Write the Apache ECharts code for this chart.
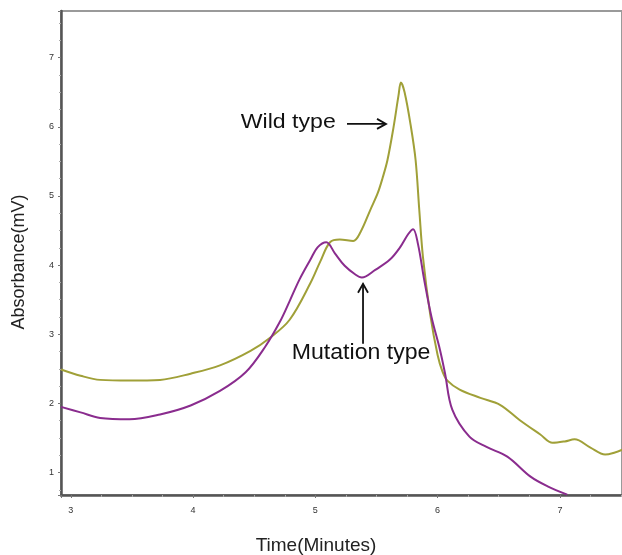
<!DOCTYPE html>
<html>
<head>
<meta charset="utf-8">
<script src="https://cdn.jsdelivr.net/npm/echarts@6/dist/echarts.min.js"></script>
<style>html,body{margin:0;padding:0;background:#fff;}#c{width:622px;height:555px;}</style>
</head>
<body>
<div id="c"></div>
<script>
// Time (minutes) and absorbance (mV)
const wildTime = [2.92,3.08,3.24,3.48,3.73,3.98,4.22,4.47,4.63,4.79,4.96,5.04,5.12,5.20,5.31,5.37,5.45,5.51,5.55,5.59,5.64,5.68,5.70,5.73,5.78,5.82,5.85,5.88,5.94,6.00,6.04,6.08,6.18,6.35,6.51,6.67,6.84,6.94,7.04,7.12,7.25,7.37,7.45,7.51];
const wildAbs  = [2.49,2.40,2.34,2.33,2.34,2.43,2.55,2.76,2.95,3.21,3.74,4.05,4.33,4.37,4.35,4.48,4.80,5.04,5.26,5.52,6.00,6.45,6.64,6.50,6.02,5.52,4.80,4.12,3.28,2.70,2.46,2.33,2.20,2.08,1.98,1.76,1.55,1.43,1.45,1.48,1.36,1.26,1.29,1.33];
const mutTime  = [2.92,3.08,3.24,3.48,3.73,3.98,4.22,4.43,4.59,4.71,4.79,4.87,4.96,5.02,5.09,5.16,5.24,5.33,5.38,5.49,5.61,5.69,5.76,5.80,5.84,5.89,5.95,6.02,6.06,6.12,6.26,6.40,6.57,6.76,6.90,7.06];
const mutAbs   = [1.95,1.87,1.79,1.77,1.84,1.97,2.18,2.45,2.82,3.18,3.48,3.79,4.08,4.26,4.33,4.17,3.99,3.86,3.82,3.93,4.08,4.25,4.45,4.52,4.30,3.79,3.25,2.77,2.44,1.91,1.52,1.37,1.23,0.94,0.80,0.68];
const seriesNames = ['Wild type', 'Mutation type'];
const xTitle = 'Time(Minutes)';
const yTitle = 'Absorbance(mV)';

const FONT = '"Liberation Sans", Arial, sans-serif';
const chart = echarts.init(document.getElementById('c'), null, {renderer: 'canvas'});

function pairs(xs, ys) { return xs.map((x, i) => [x, ys[i]]); }
function intLabel(v) {
  const r = Math.round(v);
  return Math.abs(v - r) < 1e-6 ? String(r) : '';
}

const axisCommon = {
  type: 'value',
  axisLine: {show: true, lineStyle: {color: '#555', width: 2.5}},
  axisTick: {show: true, length: 3, lineStyle: {color: '#777', width: 1}},
  minorTick: {show: true, splitNumber: 4, length: 2, lineStyle: {color: '#aaa', width: 1}},
  splitLine: {show: false},
  minorSplitLine: {show: false},
  axisLabel: {fontSize: 9, color: '#333', fontFamily: FONT, formatter: intLabel, showMinLabel: false, showMaxLabel: false}
};

chart.setOption({
  animation: false,
  backgroundColor: '#fff',
  grid: {left: 61, right: 0, top: 11, bottom: 60, show: true, borderColor: '#9a9a9a', borderWidth: 2, backgroundColor: 'transparent'},
  xAxis: Object.assign({}, axisCommon, {
    min: 2.92, max: 7.508, splitNumber: 5,
    axisLabel: Object.assign({}, axisCommon.axisLabel, {margin: 11})
  }),
  yAxis: Object.assign({}, axisCommon, {
    min: 0.675, max: 7.675, splitNumber: 7,
    axisLabel: Object.assign({}, axisCommon.axisLabel, {margin: 7})
  }),
  series: [
    {name: seriesNames[0], type: 'line', data: pairs(wildTime, wildAbs), showSymbol: false, smooth: 0.35,
     lineStyle: {color: '#a0a038', width: 2}, itemStyle: {color: '#a0a038'}, z: 2},
    {name: seriesNames[1], type: 'line', data: pairs(mutTime, mutAbs), showSymbol: false, smooth: 0.35,
     lineStyle: {color: '#8a2c8e', width: 2}, itemStyle: {color: '#8a2c8e'}, z: 3}
  ]
});

// annotation anchors in data units
const wildTextAt = [4.39, 6.07];
const wildArrow = [[5.259, 6.042], [5.578, 6.042]];
const mutTextAt = [4.807, 2.733];
const mutArrow = [[5.39, 2.863], [5.39, 3.73]];

function px(p) { return chart.convertToPixel({gridIndex: 0}, p); }
function arrow(a, b) {
  const A = px(a), B = px(b);
  const dx = B[0] - A[0], dy = B[1] - A[1];
  const len = Math.sqrt(dx * dx + dy * dy), ux = dx / len, uy = dy / len;
  const h = 9, w = 5;
  const p1 = [B[0] - ux * h - uy * w, B[1] - uy * h + ux * w];
  const p2 = [B[0] - ux * h + uy * w, B[1] - uy * h - ux * w];
  return [
    {type: 'line', shape: {x1: A[0], y1: A[1], x2: B[0], y2: B[1]}, style: {stroke: '#111', lineWidth: 1.8}, z: 10},
    {type: 'polyline', shape: {points: [p1, B, p2]}, style: {stroke: '#111', lineWidth: 1.8, fill: null}, z: 10}
  ];
}
const wt = px(wildTextAt), mt = px(mutTextAt);
chart.setOption({
  graphic: [
    {type: 'text', x: wt[0], y: wt[1], style: {text: seriesNames[0], font: '21px ' + FONT, fill: '#111', textVerticalAlign: 'middle', verticalAlign: 'middle'}, scaleX: 1.1, z: 10},
    {type: 'text', x: mt[0], y: mt[1], style: {text: seriesNames[1], font: '22px ' + FONT, fill: '#111', textVerticalAlign: 'middle', verticalAlign: 'middle'}, scaleX: 1.05, z: 10},
    ...arrow(wildArrow[0], wildArrow[1]),
    ...arrow(mutArrow[0], mutArrow[1]),
    {type: 'text', x: 316, y: 546, style: {text: xTitle, font: '19px ' + FONT, fill: '#222', align: 'center', verticalAlign: 'middle', textAlign: 'center', textVerticalAlign: 'middle'}, z: 10},
    {type: 'text', x: 19, y: 262, rotation: Math.PI / 2, style: {text: yTitle, font: '18px ' + FONT, fill: '#222', align: 'center', verticalAlign: 'middle', textAlign: 'center', textVerticalAlign: 'middle'}, z: 10}
  ]
});
</script>
</body>
</html>
